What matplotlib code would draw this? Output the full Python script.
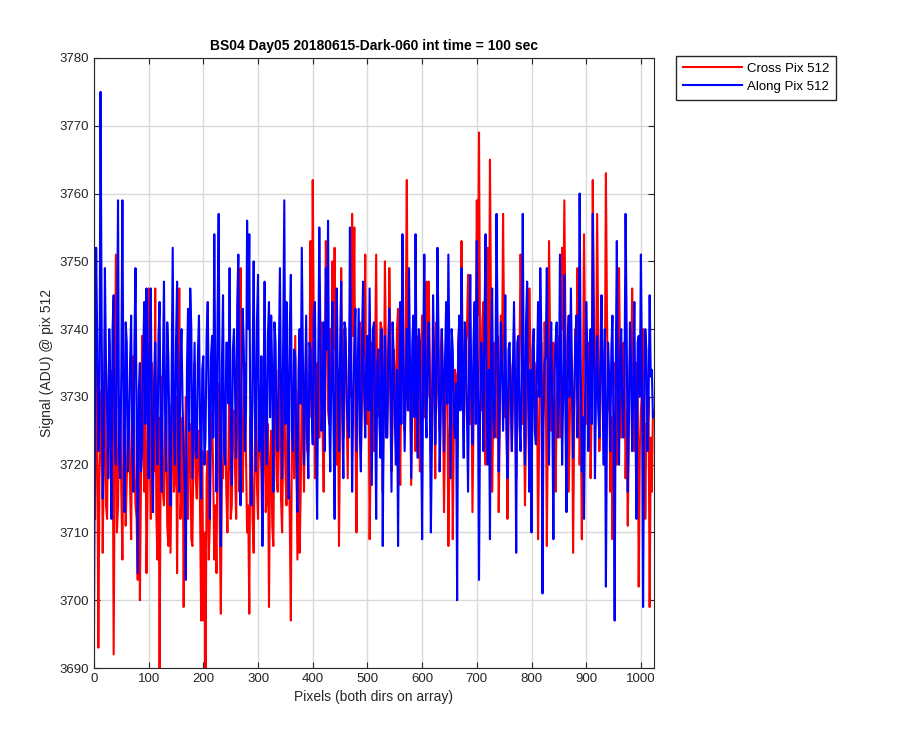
import matplotlib
matplotlib.use('Agg')
import matplotlib.pyplot as plt
import numpy as np

plt.rcParams['font.family'] = ['Liberation Sans', 'DejaVu Sans']

# pixel index along the array (every 2nd pixel)
pix = np.arange(0, 1024, 2)

# Cross Pix 512 (red) at pixels 0, 4, 8, ...
cross_a = [
    3720, 3735, 3693, 3724, 3707, 3740, 3712, 3738, 3716, 3692, 3751, 3714, 3730, 3706, 3734, 3718,
    3729, 3709, 3736, 3714, 3703, 3700, 3739, 3716, 3704, 3746, 3712, 3728, 3746, 3706, 3690, 3733,
    3714, 3728, 3708, 3707, 3734, 3718, 3704, 3746, 3716, 3699, 3730, 3712, 3726, 3708, 3735, 3715,
    3725, 3697, 3697, 3690, 3722, 3712, 3728, 3706, 3704, 3732, 3698, 3718, 3727, 3710, 3737, 3714,
    3728, 3712, 3735, 3749, 3716, 3735, 3710, 3698, 3726, 3707, 3730, 3712, 3723, 3709, 3728, 3715,
    3699, 3725, 3708, 3730, 3716, 3726, 3710, 3732, 3714, 3723, 3697, 3728, 3739, 3706, 3707, 3733,
    3716, 3738, 3722, 3753, 3762, 3718, 3735, 3724, 3741, 3716, 3753, 3728, 3740, 3750, 3752, 3720,
    3708, 3749, 3724, 3738, 3718, 3742, 3757, 3755, 3710, 3736, 3721, 3744, 3751, 3726, 3709, 3738,
    3722, 3751, 3728, 3741, 3716, 3750, 3724, 3749, 3719, 3737, 3726, 3743, 3717, 3739, 3725, 3762,
    3728, 3717, 3740, 3722, 3736, 3719, 3742, 3727, 3747, 3747, 3722, 3738, 3718, 3734, 3725, 3740,
    3713, 3736, 3708, 3730, 3709, 3734, 3722, 3741, 3753, 3724, 3738, 3748, 3726, 3713, 3740, 3759,
    3769, 3728, 3744, 3720, 3752, 3765, 3716, 3738, 3724, 3713, 3742, 3757, 3727, 3712, 3736, 3722,
    3740, 3718, 3732, 3751, 3726, 3714, 3738, 3746, 3721, 3735, 3724, 3709, 3737, 3722, 3741, 3708,
    3753, 3725, 3738, 3716, 3734, 3724, 3752, 3759, 3728, 3716, 3737, 3707, 3740, 3749, 3720, 3709,
    3754, 3726, 3738, 3718, 3762, 3730, 3757, 3722, 3740, 3725, 3763, 3728, 3716, 3709, 3735, 3720,
    3749, 3724, 3738, 3718, 3711, 3736, 3746, 3722, 3735, 3702, 3728, 3740, 3712, 3724, 3699, 3716,
]
# Cross Pix 512 (red) at pixels 2, 6, 10, ...
cross_b = [
    3712, 3726, 3718, 3731, 3722, 3714, 3728, 3719, 3734, 3721, 3710, 3727, 3716, 3725, 3711, 3724,
    3717, 3730, 3720, 3712, 3726, 3718, 3724, 3731, 3715, 3722, 3735, 3719, 3713, 3727, 3721, 3716,
    3725, 3711, 3729, 3720, 3716, 3730, 3723, 3712, 3727, 3719, 3715, 3726, 3709, 3724, 3718, 3722,
    3713, 3722, 3710, 3718, 3706, 3727, 3719, 3714, 3725, 3711, 3720, 3729, 3716, 3722, 3712, 3726,
    3719, 3730, 3716, 3724, 3729, 3721, 3714, 3727, 3712, 3722, 3717, 3731, 3719, 3725, 3713, 3726,
    3720, 3711, 3728, 3718, 3734, 3715, 3724, 3719, 3730, 3712, 3726, 3718, 3722, 3731, 3716, 3725,
    3729, 3722, 3734, 3727, 3738, 3724, 3730, 3736, 3725, 3733, 3739, 3726, 3731, 3737, 3728, 3734,
    3725, 3733, 3740, 3728, 3735, 3730, 3739, 3726, 3733, 3741, 3729, 3736, 3727, 3734, 3722, 3731,
    3737, 3727, 3734, 3740, 3729, 3735, 3731, 3738, 3726, 3733, 3740, 3728, 3735, 3730, 3741, 3732,
    3736, 3729, 3733, 3739, 3727, 3735, 3731, 3738, 3730, 3736, 3728, 3733, 3741, 3729, 3737, 3731,
    3727, 3734, 3722, 3730, 3725, 3733, 3738, 3729, 3736, 3731, 3740, 3728, 3734, 3727, 3737, 3742,
    3735, 3741, 3730, 3737, 3731, 3742, 3728, 3734, 3739, 3726, 3733, 3738, 3730, 3725, 3734, 3729,
    3732, 3727, 3736, 3740, 3730, 3725, 3733, 3737, 3729, 3735, 3731, 3724, 3738, 3729, 3734, 3727,
    3738, 3731, 3735, 3728, 3739, 3733, 3740, 3741, 3731, 3727, 3734, 3726, 3737, 3733, 3729, 3731,
    3738, 3732, 3735, 3729, 3741, 3734, 3739, 3730, 3736, 3731, 3742, 3733, 3727, 3731, 3734, 3729,
    3735, 3730, 3736, 3728, 3725, 3733, 3737, 3729, 3734, 3722, 3731, 3735, 3726, 3730, 3724, 3728,
]

# Along Pix 512 (blue) at pixels 0, 4, 8, ...
along_a = [
    3695, 3752, 3722, 3775, 3715, 3749, 3728, 3740, 3712, 3745, 3720, 3759, 3718, 3759, 3713, 3738,
    3725, 3742, 3716, 3749, 3704, 3735, 3722, 3744, 3746, 3718, 3746, 3713, 3738, 3720, 3744, 3716,
    3747, 3719, 3736, 3714, 3752, 3720, 3747, 3716, 3740, 3722, 3703, 3743, 3746, 3718, 3738, 3721,
    3742, 3715, 3736, 3724, 3744, 3712, 3739, 3754, 3716, 3757, 3708, 3745, 3720, 3738, 3749, 3717,
    3740, 3721, 3751, 3714, 3743, 3722, 3756, 3754, 3714, 3750, 3719, 3748, 3724, 3708, 3747, 3720,
    3744, 3742, 3716, 3738, 3722, 3749, 3718, 3759, 3744, 3715, 3748, 3722, 3736, 3713, 3740, 3752,
    3720, 3742, 3718, 3737, 3723, 3744, 3712, 3755, 3725, 3741, 3749, 3756, 3719, 3744, 3712, 3746,
    3722, 3747, 3718, 3740, 3726, 3755, 3716, 3738, 3722, 3743, 3719, 3747, 3724, 3739, 3746, 3717,
    3741, 3712, 3737, 3721, 3708, 3739, 3724, 3743, 3716, 3736, 3720, 3708, 3744, 3754, 3722, 3740,
    3749, 3718, 3742, 3754, 3721, 3738, 3709, 3751, 3724, 3741, 3710, 3745, 3723, 3752, 3719, 3740,
    3722, 3744, 3751, 3718, 3737, 3724, 3700, 3742, 3749, 3721, 3739, 3716, 3748, 3723, 3744, 3753,
    3703, 3738, 3722, 3754, 3720, 3709, 3746, 3724, 3757, 3719, 3741, 3725, 3745, 3718, 3738, 3722,
    3744, 3707, 3739, 3722, 3757, 3720, 3747, 3716, 3710, 3740, 3723, 3744, 3749, 3701, 3735, 3749,
    3720, 3741, 3709, 3738, 3724, 3751, 3720, 3748, 3713, 3742, 3746, 3721, 3738, 3724, 3760, 3719,
    3712, 3744, 3722, 3740, 3757, 3718, 3739, 3724, 3745, 3720, 3702, 3738, 3722, 3742, 3697, 3753,
    3720, 3740, 3724, 3757, 3716, 3741, 3722, 3744, 3712, 3739, 3751, 3699, 3740, 3722, 3745, 3734,
]
# Along Pix 512 (blue) at pixels 2, 6, 10, ...
along_b = [
    3730, 3738, 3726, 3742, 3722, 3735, 3718, 3731, 3740, 3724, 3736, 3721, 3734, 3728, 3741, 3719,
    3735, 3722, 3738, 3727, 3731, 3719, 3736, 3726, 3733, 3740, 3721, 3732, 3727, 3739, 3723, 3734,
    3728, 3741, 3724, 3733, 3726, 3738, 3722, 3735, 3729, 3717, 3734, 3725, 3740, 3728, 3722, 3736,
    3726, 3734, 3720, 3739, 3729, 3736, 3724, 3731, 3742, 3727, 3735, 3722, 3738, 3729, 3724, 3737,
    3730, 3744, 3725, 3733, 3737, 3728, 3740, 3723, 3735, 3729, 3741, 3722, 3736, 3730, 3726, 3739,
    3727, 3733, 3741, 3724, 3736, 3730, 3738, 3726, 3731, 3740, 3725, 3737, 3721, 3734, 3729, 3736,
    3731, 3724, 3738, 3728, 3742, 3726, 3733, 3739, 3730, 3722, 3737, 3728, 3734, 3726, 3738, 3731,
    3736, 3727, 3741, 3730, 3724, 3737, 3729, 3743, 3733, 3725, 3738, 3730, 3735, 3728, 3731, 3740,
    3729, 3735, 3726, 3740, 3731, 3724, 3737, 3729, 3741, 3727, 3734, 3730, 3726, 3736, 3731, 3728,
    3733, 3738, 3727, 3731, 3740, 3726, 3735, 3729, 3737, 3730, 3724, 3736, 3731, 3739, 3727, 3733,
    3736, 3729, 3734, 3740, 3726, 3732, 3737, 3728, 3733, 3741, 3727, 3735, 3730, 3738, 3726, 3734,
    3728, 3735, 3741, 3729, 3734, 3738, 3727, 3733, 3740, 3729, 3735, 3731, 3726, 3737, 3730, 3734,
    3731, 3738, 3726, 3735, 3730, 3741, 3729, 3734, 3737, 3725, 3733, 3730, 3739, 3727, 3736, 3731,
    3735, 3728, 3733, 3741, 3729, 3736, 3731, 3727, 3738, 3730, 3734, 3729, 3742, 3732, 3735, 3727,
    3730, 3737, 3733, 3726, 3739, 3731, 3728, 3736, 3730, 3740, 3727, 3733, 3737, 3725, 3734, 3730,
    3736, 3729, 3733, 3740, 3727, 3735, 3731, 3726, 3738, 3730, 3734, 3728, 3737, 3729, 3733, 3727,
]

cross = np.column_stack([cross_a, cross_b]).ravel()
along = np.column_stack([along_a, along_b]).ravel()

fig = plt.figure(figsize=(9, 7.5), dpi=100)
ax = fig.add_axes([0.1044, 0.1093, 0.6223, 0.8134])

ax.plot(pix, cross, color='red', lw=1.5, label='Cross Pix 512')
ax.plot(pix, along, color='blue', lw=1.5, label='Along Pix 512')

ax.set_xlim(0, 1024)
ax.set_ylim(3690, 3780)
ax.set_xticks(np.arange(0, 1001, 100))
ax.set_yticks(np.arange(3690, 3781, 10))
ax.grid(True, color='#d9d9d9', lw=1)
ax.set_axisbelow(True)
ax.tick_params(direction='in', top=True, right=True, labelsize=9.5, colors='#262626', length=4)
for s in ax.spines.values():
    s.set_color('#262626')

ax.set_title('BS04 Day05 20180615-Dark-060 int time = 100 sec', fontsize=10, fontweight='bold', pad=6)
ax.set_xlabel('Pixels (both dirs on array)', fontsize=10, color='#262626')
ax.set_ylabel('Signal (ADU) @ pix 512', fontsize=10, color='#262626')

leg = fig.legend(loc='upper left', bbox_to_anchor=(676 / 900, 1 - 56 / 750), fontsize=9.5,
                 handlelength=4.5, fancybox=False, framealpha=1, edgecolor='#262626',
                 borderpad=0.5, labelspacing=0.45, handletextpad=0.4, borderaxespad=0)
leg.get_frame().set_linewidth(1)

fig.savefig('out.png', dpi=100, facecolor='white')
